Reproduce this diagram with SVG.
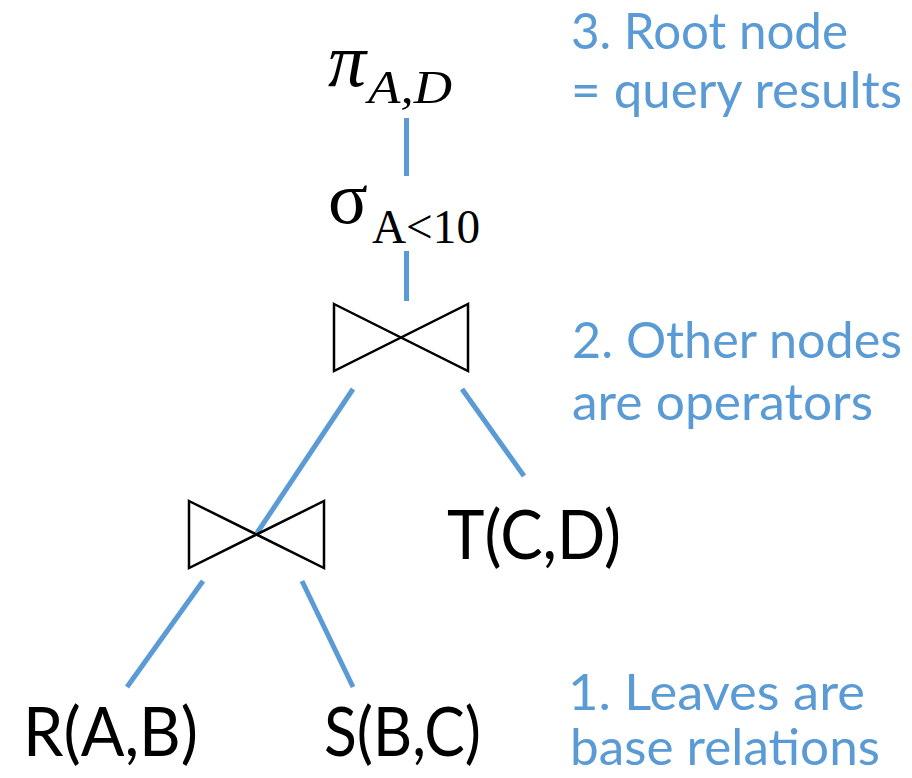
<svg xmlns="http://www.w3.org/2000/svg" width="912" height="778" viewBox="0 0 912 778">
  <style>
    .edge { stroke: #5B9BD5; stroke-width: 5; fill: none; }
    .join { stroke: #000; stroke-width: 2.5; fill: none; stroke-linejoin: miter; }
    .rel { font-family: Lato, "Liberation Sans", sans-serif; font-size: 67px; fill: #000; }
    .math { font-family: "Liberation Serif", "DejaVu Serif", serif; fill: #000; }
    .note { font-family: Lato, "Noto Sans", sans-serif; font-size: 50px; fill: #5B9BD5; }
  </style>
  <rect width="912" height="778" fill="#fff"/>

  <!-- tree edges -->
  <g id="connectors">
    <line class="edge" x1="406.5" y1="118" x2="406.5" y2="176"/>
    <line class="edge" x1="406.5" y1="251" x2="406.5" y2="301"/>
    <line class="edge" x1="353" y1="389" x2="257" y2="533"/>
    <line class="edge" x1="462" y1="389" x2="524" y2="476"/>
    <line class="edge" x1="203" y1="581" x2="127" y2="687"/>
    <line class="edge" x1="302" y1="581" x2="353" y2="687"/>
  </g>

  <!-- projection -->
  <g id="node-project">
    <text class="math" x="328" y="86" font-size="76" font-style="italic">π</text>
    <text class="math" x="368" y="103" font-size="46" font-style="italic" textLength="84" lengthAdjust="spacingAndGlyphs">A,D</text>
  </g>

  <!-- selection -->
  <g id="node-select">
    <text class="math" x="328" y="223" font-size="74">σ</text>
    <text class="math" x="372" y="243" font-size="48" textLength="108" lengthAdjust="spacingAndGlyphs">A&lt;10</text>
  </g>

  <!-- upper join -->
  <g id="node-join-top">
    <polygon class="join" points="334,304 468,371 468,304 334,371"/>
  </g>

  <!-- lower join -->
  <g id="node-join-bottom">
    <polygon class="join" points="189,501 324,568 324,501 189,568"/>
  </g>

  <!-- base relations -->
  <g id="node-T">
    <text class="rel" x="447" y="559" textLength="174" lengthAdjust="spacingAndGlyphs">T(C,D)</text>
  </g>
  <g id="node-R">
    <text class="rel" x="23" y="756" textLength="175" lengthAdjust="spacingAndGlyphs">R(A,B)</text>
  </g>
  <g id="node-S">
    <text class="rel" x="324" y="756" textLength="157" lengthAdjust="spacingAndGlyphs">S(B,C)</text>
  </g>

  <!-- side notes -->
  <g id="note-root">
    <text class="note" x="571" y="49" textLength="277" lengthAdjust="spacingAndGlyphs">3. Root node</text>
    <text class="note" x="571" y="108" textLength="331" lengthAdjust="spacingAndGlyphs">= query results</text>
  </g>
  <g id="note-operators">
    <text class="note" x="572" y="358" textLength="330" lengthAdjust="spacingAndGlyphs">2. Other nodes</text>
    <text class="note" x="572" y="420" textLength="301" lengthAdjust="spacingAndGlyphs">are operators</text>
  </g>
  <g id="note-leaves">
    <text class="note" x="568" y="710" textLength="297" lengthAdjust="spacingAndGlyphs">1. Leaves are</text>
    <text class="note" x="570" y="765" textLength="310" lengthAdjust="spacingAndGlyphs">base relations</text>
  </g>
</svg>
